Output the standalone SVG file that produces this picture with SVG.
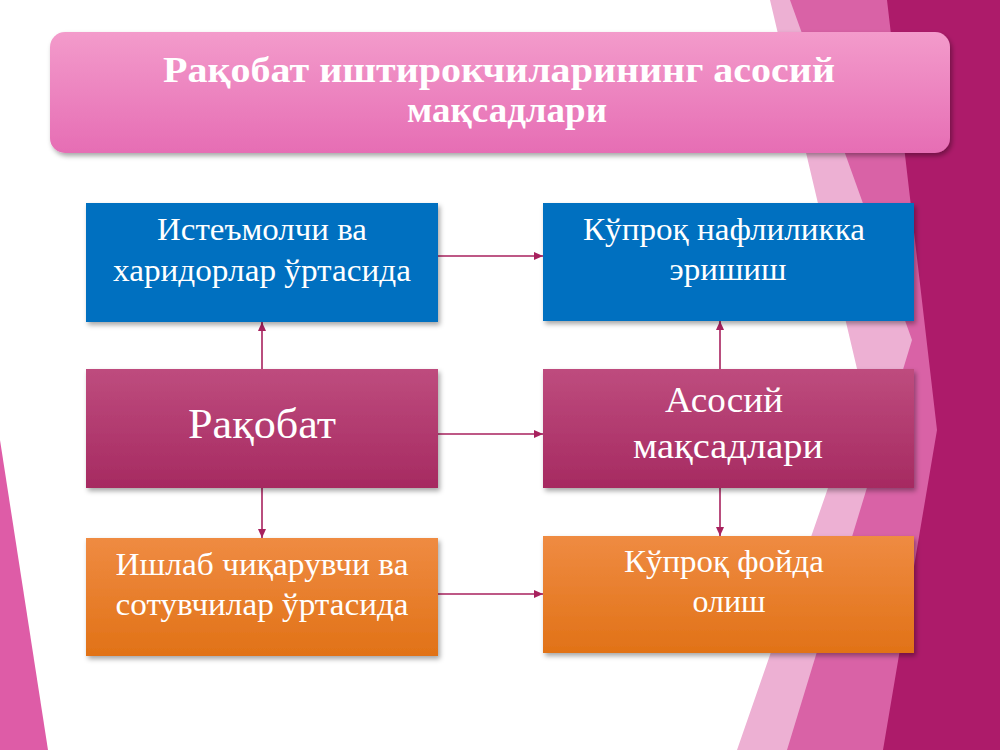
<svg xmlns="http://www.w3.org/2000/svg" width="1000" height="750" viewBox="0 0 1000 750">
<defs>
<style>
.t{font-family:"Liberation Serif","Times New Roman",serif;fill:#ffffff;text-anchor:middle}
.title{font-weight:bold;font-size:35px}
.b30{font-size:31px}
.conn{stroke:#A8215E;stroke-width:1.6;fill:none;marker-end:url(#ah)}
</style>
<linearGradient id="gTitle" x1="0" y1="0" x2="0" y2="1">
<stop offset="0" stop-color="#F39BCB"/>
<stop offset="1" stop-color="#E66DB4"/>
</linearGradient>
<linearGradient id="gMag" x1="0" y1="0" x2="0" y2="1">
<stop offset="0" stop-color="#BE4C7E"/>
<stop offset="1" stop-color="#A62A61"/>
</linearGradient>
<linearGradient id="gOr" x1="0" y1="0" x2="0" y2="1">
<stop offset="0" stop-color="#EF8B42"/>
<stop offset="1" stop-color="#E17217"/>
</linearGradient>
<filter id="sh" x="-10%" y="-10%" width="130%" height="140%">
<feDropShadow dx="2" dy="3" stdDeviation="2.5" flood-color="#000" flood-opacity="0.35"/>
</filter>
<marker id="ah" markerWidth="9" markerHeight="8" refX="9" refY="4" orient="auto" markerUnits="userSpaceOnUse">
<path d="M0,0 L9,4 L0,8 Z" fill="#A8215E"/>
</marker>
</defs>

<rect width="1000" height="750" fill="#ffffff"/>
<g id="background">
<polygon points="770,0 1000,0 1000,750 737,750 862,390" fill="#EDB0D3"/>
<polygon points="790,0 1000,0 1000,750 787,750 912,340" fill="#D962A6"/>
<polygon points="887,0 1000,0 1000,750 883,750 937,430" fill="#AD1B6A"/>
<polygon points="0,440 48,750 0,750" fill="#DE5CA7"/>
</g>

<g id="title">
<rect x="50" y="32" width="900" height="121" rx="15" ry="15" fill="url(#gTitle)" filter="url(#sh)"/>
<text class="t title" x="499" y="82" textLength="672" lengthAdjust="spacingAndGlyphs">Рақобат иштирокчиларининг асосий</text>
<text class="t title" x="507" y="122" textLength="200" lengthAdjust="spacingAndGlyphs">мақсадлари</text>
</g>

<g id="connectors">
<line class="conn" x1="262" y1="369" x2="262" y2="322"/>
<line class="conn" x1="262" y1="488" x2="262" y2="538"/>
<line class="conn" x1="438" y1="256" x2="543" y2="256"/>
<line class="conn" x1="438" y1="434" x2="543" y2="434"/>
<line class="conn" x1="438" y1="594" x2="543" y2="594"/>
<line class="conn" x1="720" y1="369" x2="720" y2="321"/>
<line class="conn" x1="720" y1="488" x2="720" y2="536"/>
</g>

<g id="node-consumers">
<rect x="86" y="203" width="352" height="119" fill="#0070C0" filter="url(#sh)"/>
<text class="t b30" x="262" y="240" textLength="210" lengthAdjust="spacingAndGlyphs">Истеъмолчи ва</text>
<text class="t b30" x="262" y="281" textLength="298" lengthAdjust="spacingAndGlyphs">харидорлар ўртасида</text>
</g>

<g id="node-competition">
<rect x="86" y="369" width="352" height="119" fill="url(#gMag)" filter="url(#sh)"/>
<text class="t" x="262" y="438" font-size="43" textLength="148" lengthAdjust="spacingAndGlyphs">Рақобат</text>
</g>

<g id="node-producers">
<rect x="86" y="538" width="352" height="118" fill="url(#gOr)" filter="url(#sh)"/>
<text class="t b30" x="262" y="575" textLength="293" lengthAdjust="spacingAndGlyphs">Ишлаб чиқарувчи ва</text>
<text class="t b30" x="262" y="615" textLength="293" lengthAdjust="spacingAndGlyphs">сотувчилар ўртасида</text>
</g>

<g id="node-utility">
<rect x="543" y="203" width="371" height="118" fill="#0070C0" filter="url(#sh)"/>
<text class="t b30" x="724" y="240" textLength="282" lengthAdjust="spacingAndGlyphs">Кўпроқ нафлиликка</text>
<text class="t b30" x="728" y="280" textLength="117" lengthAdjust="spacingAndGlyphs">эришиш</text>
</g>

<g id="node-goals">
<rect x="543" y="369" width="371" height="119" fill="url(#gMag)" filter="url(#sh)"/>
<text class="t" x="724" y="412" font-size="36" textLength="118" lengthAdjust="spacingAndGlyphs">Асосий</text>
<text class="t" x="728" y="458" font-size="36" textLength="190" lengthAdjust="spacingAndGlyphs">мақсадлари</text>
</g>

<g id="node-profit">
<rect x="543" y="536" width="371" height="117" fill="url(#gOr)" filter="url(#sh)"/>
<text class="t b30" x="724" y="572" textLength="200" lengthAdjust="spacingAndGlyphs">Кўпроқ фойда</text>
<text class="t b30" x="729" y="612" textLength="73" lengthAdjust="spacingAndGlyphs">олиш</text>
</g>
</svg>
